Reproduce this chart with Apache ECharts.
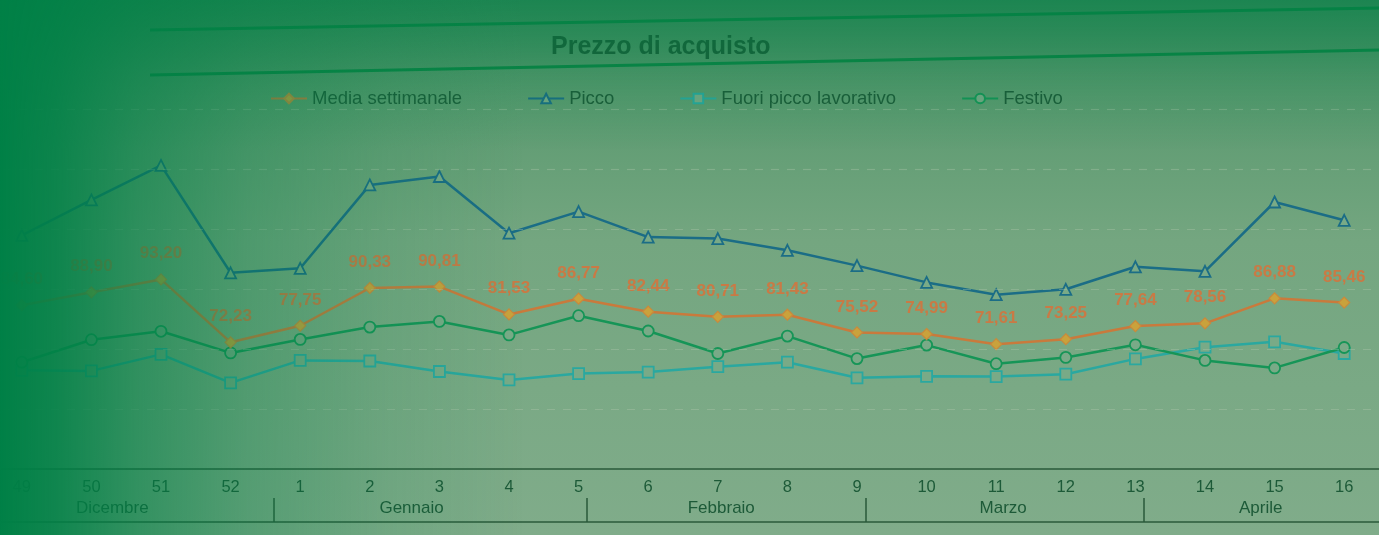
<!DOCTYPE html>
<html>
<head>
<meta charset="utf-8">
<script src="https://cdn.jsdelivr.net/npm/echarts@6/dist/echarts.min.js"></script>
<style>
html,body{margin:0;padding:0;}
body{width:1379px;height:535px;overflow:hidden;position:relative;
background:linear-gradient(to bottom,#3f8c5f 0%,#5b9a70 18%,#74a680 45%,#80ac8a 100%);}
#chart{position:absolute;left:-13px;top:0;width:1392px;height:535px;}
#fadeL{position:absolute;left:0;top:0;width:1379px;height:535px;pointer-events:none;
background:linear-gradient(to right,rgba(0,128,70,1) 0%,rgba(0,128,70,0.88) 4%,rgba(0,128,70,0.6) 10%,rgba(0,128,70,0.33) 18%,rgba(0,128,70,0.12) 28%,rgba(0,128,70,0) 38%);}
#fadeT{position:absolute;left:0;top:0;width:1379px;height:535px;pointer-events:none;
background:linear-gradient(to bottom,rgba(0,128,70,0.55) 0%,rgba(0,128,70,0.2) 14%,rgba(0,128,70,0) 28%);}
</style>
</head>
<body>
<div id="chart"></div>
<div id="fadeT"></div>
<div id="fadeL"></div>
<script>
// ---- data ----
const weeks = ['49','50','51','52','1','2','3','4','5','6','7','8','9','10','11','12','13','14','15','16'];
const mediaSettimanale = [84.60, 88.90, 93.20, 72.23, 77.75, 90.33, 90.81, 81.53, 86.77, 82.44, 80.71, 81.43, 75.52, 74.99, 71.61, 73.25, 77.64, 78.56, 86.88, 85.46];
const picco = [107.9, 119.7, 131.2, 95.4, 96.9, 124.7, 127.5, 108.6, 115.8, 107.3, 106.8, 102.9, 97.8, 92.2, 88.1, 89.9, 97.4, 95.9, 119.0, 112.9];
const fuoriPicco = [62.9, 62.7, 68.2, 58.7, 66.2, 66.0, 62.5, 59.7, 61.8, 62.3, 64.1, 65.6, 60.4, 60.9, 60.8, 61.6, 66.7, 70.6, 72.4, 68.5];
const festivo = [65.6, 73.1, 75.9, 68.7, 73.2, 77.3, 79.2, 74.7, 81.1, 76.0, 68.5, 74.3, 66.8, 71.3, 65.1, 67.2, 71.4, 66.2, 63.7, 70.5];
const gridValues = [50, 70, 90, 110, 130, 150];
const months = ['Dicembre', 'Gennaio', 'Febbraio', 'Marzo', 'Aprile'];
const monthCenters = [1.8, 6.1, 10.55, 14.6, 18.3];   // in week-slot units
const monthDividers = [4.12, 8.62, 12.62, 16.62];

const chart = echarts.init(document.getElementById('chart'), null, {renderer: 'canvas'});
const txt = '#1d5a38';
const fontFam = '"Liberation Sans", Arial, sans-serif';
const markerFill = '#79aa87';
const dx = 13; // chart div is shifted left by this many pixels

function lineSeries(name, data, color, symbol, extra) {
  return Object.assign({
    name: name, type: 'line', data: data, xAxisIndex: 0, yAxisIndex: 0,
    symbol: symbol, symbolSize: 11,
    lineStyle: {color: color, width: 2.5},
    itemStyle: {color: markerFill, borderColor: color, borderWidth: 1.8},
    emphasis: {disabled: true}, animation: false, z: 3
  }, extra || {});
}

const option = {
  animation: false,
  title: {
    text: 'Prezzo di acquisto', left: 546 + dx, top: 30,
    textStyle: {color: '#1a5c37', fontSize: 25, fontWeight: 'bold', fontFamily: fontFam}
  },
  graphic: [
    {type: 'line', shape: {x1: 150 + dx, y1: 30, x2: 1392, y2: 8}, style: {stroke: '#0b8545', lineWidth: 3}, silent: true},
    {type: 'line', shape: {x1: 150 + dx, y1: 75, x2: 1392, y2: 50}, style: {stroke: '#0b8545', lineWidth: 3}, silent: true}
  ],
  legend: {
    left: 265 + dx, top: 84, itemGap: 65, itemWidth: 36, itemHeight: 12,
    textStyle: {color: txt, fontSize: 18.5, fontFamily: fontFam},
    data: ['Media settimanale', 'Picco', 'Fuori picco lavorativo', 'Festivo']
  },
  grid: {left: 0, right: 0, top: 109, bottom: 66, containLabel: false},
  xAxis: [
    {
      type: 'category', data: weeks, boundaryGap: true, position: 'bottom',
      axisLine: {show: true, lineStyle: {color: '#2a5a3a', width: 1.5}},
      axisTick: {show: false},
      axisLabel: {color: txt, fontSize: 16.5, margin: 10, fontFamily: fontFam},
      splitLine: {show: false}
    },
    {
      type: 'value', min: 0, max: weeks.length, position: 'bottom', offset: 53,
      axisLine: {show: true, lineStyle: {color: '#2a5a3a', width: 1.5}},
      axisTick: {show: true, inside: true, length: 24, customValues: monthDividers, lineStyle: {color: '#2a5a3a', width: 1.5}},
      axisLabel: {
        show: true, inside: true, margin: 5, customValues: monthCenters,
        color: txt, fontSize: 17, fontFamily: fontFam,
        formatter: function (v) {
          for (let i = 0; i < monthCenters.length; i++) {
            if (Math.abs(monthCenters[i] - v) < 1e-6) return months[i];
          }
          return '';
        }
      },
      splitLine: {show: false}
    }
  ],
  yAxis: {
    type: 'value', min: 30, max: 150,
    axisLine: {show: false}, axisTick: {show: false}, axisLabel: {show: false},
    splitLine: {show: false}
  },
  series: [
    lineSeries('Media settimanale', mediaSettimanale, '#c97a3c', 'diamond', {
      itemStyle: {color: '#c9a23c', borderColor: '#c98a3c', borderWidth: 1.2},
      symbolSize: 11,
      label: {
        show: true, position: 'top', distance: 11,
        color: '#c97a45', fontSize: 17, fontWeight: 'bold', fontFamily: fontFam,
        formatter: function (p) { return p.value.toFixed(2).replace('.', ','); }
      },
      markLine: {
        silent: true, symbol: 'none', label: {show: false},
        lineStyle: {color: 'rgba(180,200,175,0.35)', type: [8, 8], width: 1.2},
        data: gridValues.map(function (v) { return {yAxis: v}; })
      },
      z: 4
    }),
    lineSeries('Picco', picco, '#1b6d86', 'triangle'),
    lineSeries('Fuori picco lavorativo', fuoriPicco, '#2aa8a0', 'rect'),
    lineSeries('Festivo', festivo, '#169557', 'circle')
  ]
};
chart.setOption(option);
</script>
</body>
</html>
